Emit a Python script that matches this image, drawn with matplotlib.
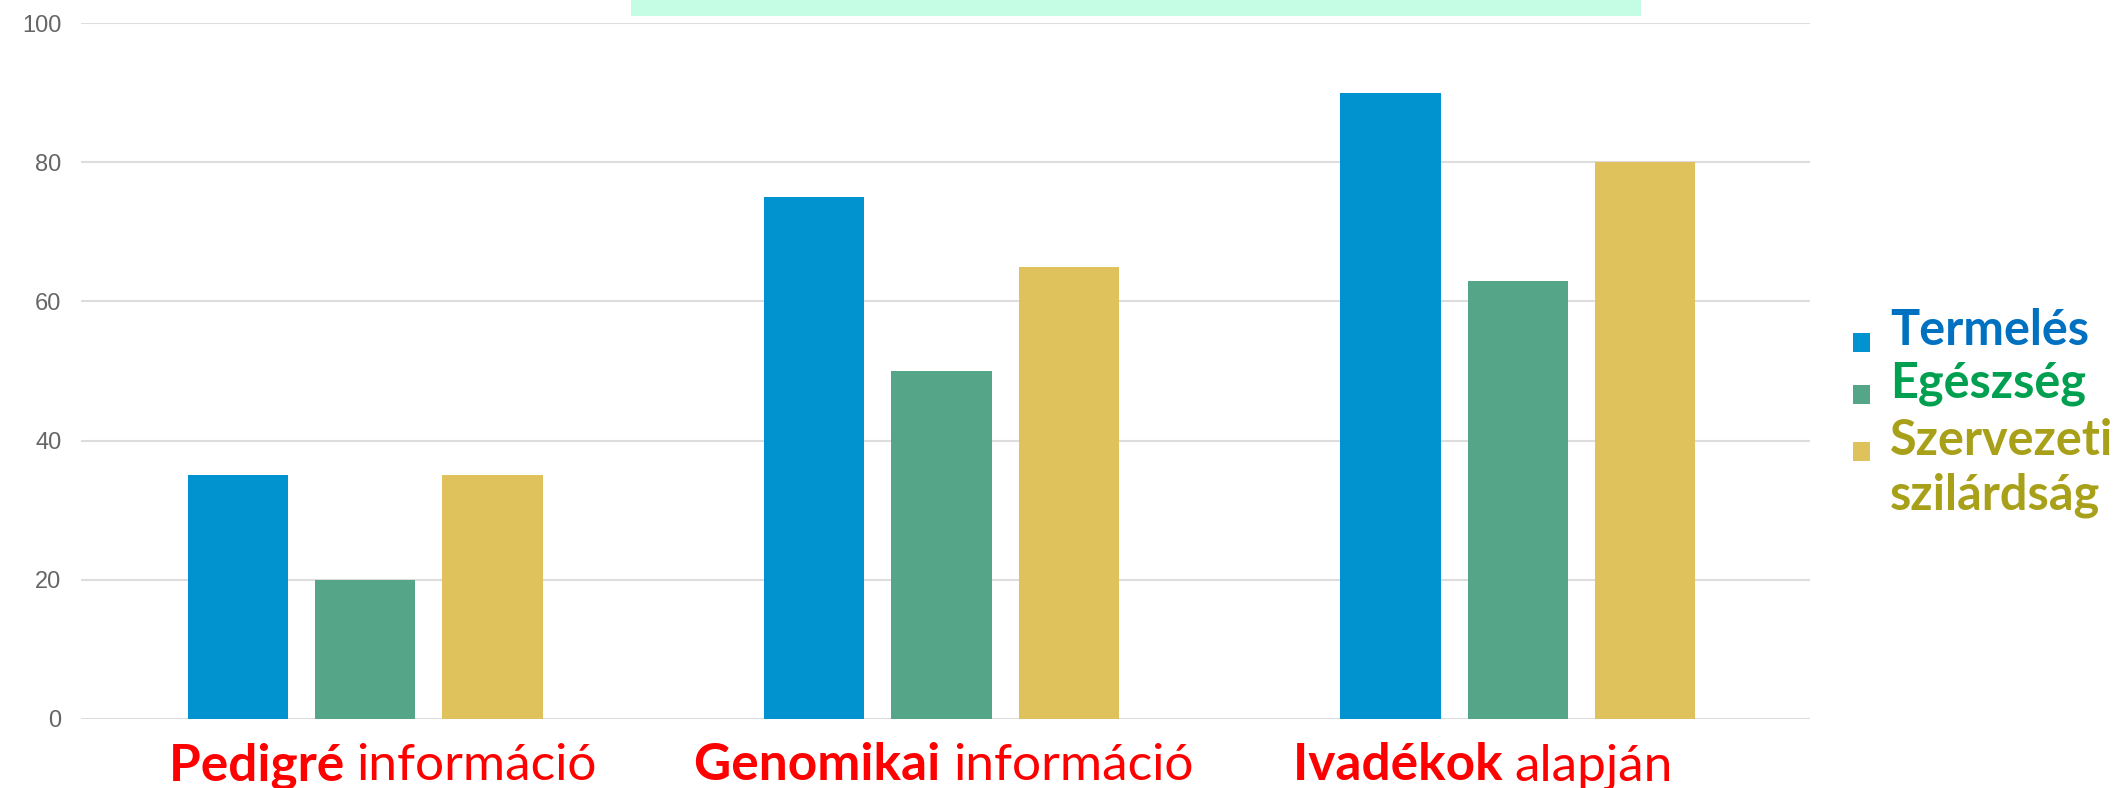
import matplotlib.pyplot as plt
import numpy as np
from matplotlib.patches import Rectangle

groups_bold = ["Pedigré", "Genomikai", "Ivadékok"]
groups_light = ["információ", "információ", "alapján"]
series = [["Termelés"], ["Egészség"], ["Szervezeti", "szilárdság"]]
termeles = [35, 75, 90]
egeszseg = [20, 50, 63]
szervezeti = [35, 65, 80]
yticks = [0, 20, 40, 60, 80, 100]

bar_colors = ["#0093D0", "#55A688", "#E0C25C"]
text_colors = ["#0070C0", "#00A050", "#A9A01A"]

plt.rcParams['font.family'] = ['Lato', 'DejaVu Sans']

fig = plt.figure(figsize=(21.26, 7.88), dpi=100)
ax = fig.add_axes([0.0381, 0.0876, 0.8133, 0.8832])

x = np.arange(len(groups_bold))
w = 0.174
step = 0.221
for k, vals in enumerate([termeles, egeszseg, szervezeti]):
    ax.bar(x + (k - 1) * step, vals, width=w, color=bar_colors[k], zorder=3)

ax.set_xlim(-0.493, 2.507)
ax.set_ylim(0, 100)
ax.set_yticks(yticks)
ax.set_yticklabels([str(v) for v in yticks], family='Liberation Sans', fontsize=17, color='#666666')
ax.tick_params(axis='y', length=0, pad=14)
ax.set_xticks([])
ax.grid(axis='y', color='#dddddd', linewidth=1.5, zorder=0)
for s in ax.spines.values():
    s.set_visible(False)

# top box (title mostly cut off in the original)
fig.patches.append(Rectangle((0.297, 0.9797), 0.475, 0.0203, transform=fig.transFigure,
                             facecolor='#C4FDE4', edgecolor='none'))

# x labels: bold + light parts
label_centers = [0.180, 0.444, 0.6975]
fig.canvas.draw()
r = fig.canvas.get_renderer()
for i in range(len(groups_bold)):
    tb = fig.text(0, 0.01, groups_bold[i] + " ", fontsize=37, fontweight='bold', color='red')
    tl = fig.text(0, 0.01, groups_light[i], fontsize=37, fontweight='normal', color='red')
    wb = tb.get_window_extent(r).width / fig.bbox.width
    wl = tl.get_window_extent(r).width / fig.bbox.width
    x0 = label_centers[i] - (wb + wl) / 2
    tb.set_x(x0)
    tl.set_x(x0 + wb)

# legend
base = [0.562, 0.495, 0.423]
for k in range(3):
    fig.patches.append(Rectangle((0.8716, base[k] - 0.0082), 0.008, 0.024, transform=fig.transFigure,
                                 facecolor=bar_colors[k], edgecolor='none'))
    for j, line in enumerate(series[k]):
        fig.text(0.889, base[k] - j * 0.07, line, fontsize=35, fontweight='bold',
                 color=text_colors[k], va='baseline')

fig.savefig("out.png", dpi=100)
